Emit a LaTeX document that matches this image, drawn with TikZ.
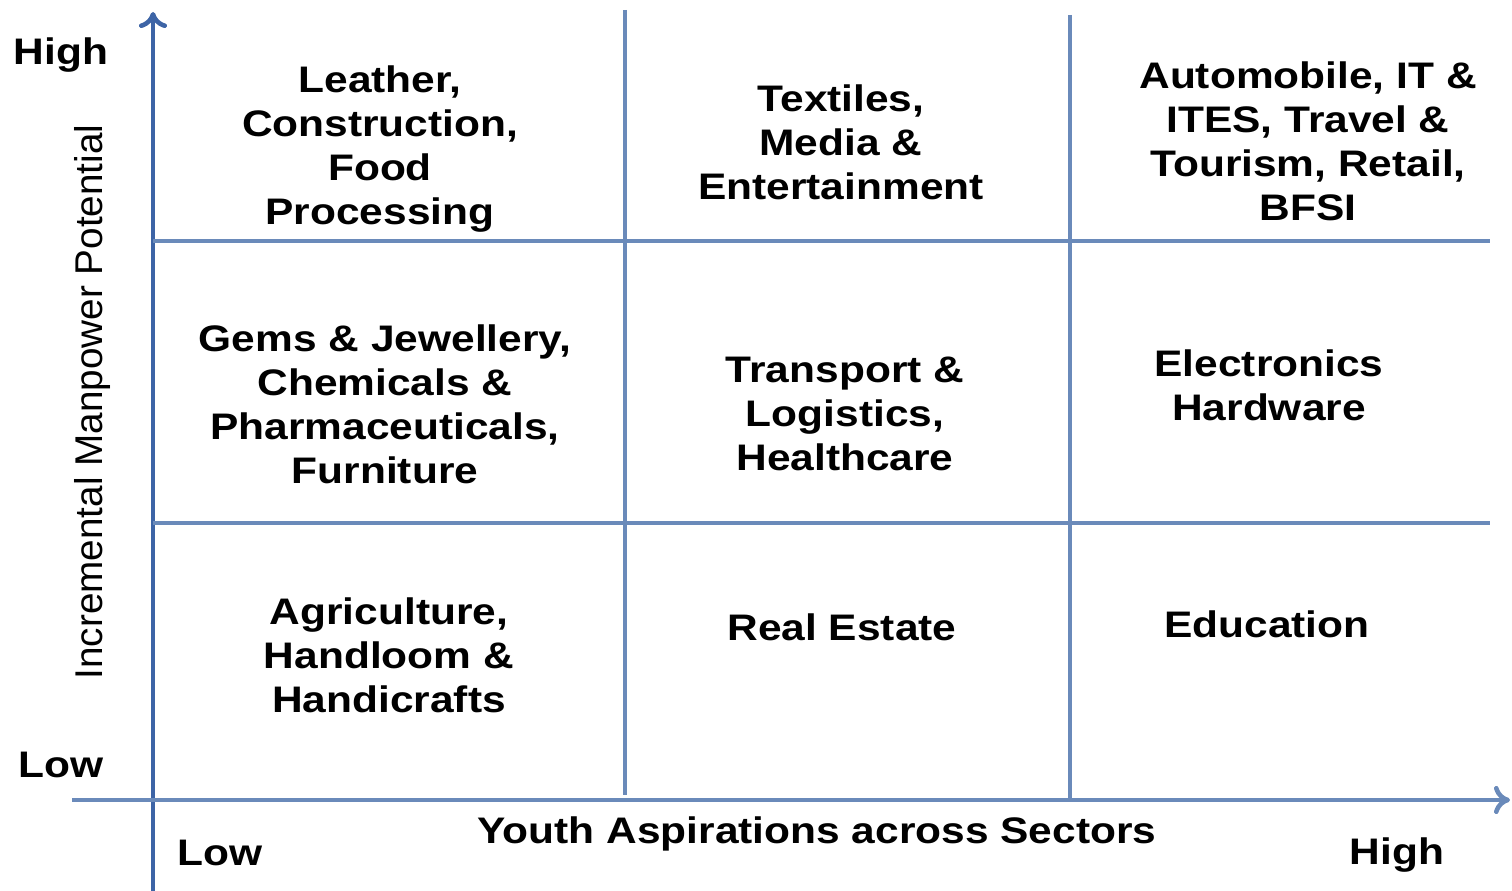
\documentclass[tikz,border=0pt]{standalone}
\usepackage{fontspec}
\setmainfont{Liberation Sans}[FakeStretch=1.15]
\newfontfamily\axisfont{Liberation Sans}
\usepackage{tikz}
\usetikzlibrary{arrows.meta, calc}

\definecolor{axisblue}{HTML}{3D64A6}
\definecolor{gridblue}{HTML}{6A8ABA}

\tikzset{
  cell/.style={align=center, inner sep=0pt, font=\fontsize{10.5}{12.5}\selectfont\bfseries},
  level/.style={inner sep=0pt, font=\fontsize{10.5}{12.5}\selectfont\bfseries},
  axisline/.style={axisblue, line width=1.1pt},
  gridline/.style={gridblue, line width=0.9pt},
}

\begin{document}
\begin{tikzpicture}[x=0.01cm, y=-0.01cm]

 %%Paramaters
%% grid position in pixels of the original, can be modified
\def\colA{625}
\def\colB{1070}
\def\rowA{241}
\def\rowB{523}
\def\textShift{3}
\useasboundingbox (0,0) rectangle (1512,891);

%% Axes
\coordinate (origin) at (153, 800);
\coordinate (ytop) at (153, 12);
\coordinate (ybot) at (153, 891);
\coordinate (xleft) at (72, 800);
\coordinate (xright) at (1510, 800);

\draw[axisline, -{To[length=1.6mm, width=2.8mm, line width=1.3pt]}] (ybot) -- (ytop);
\draw[gridline, line width=1pt, -{To[length=1.6mm, width=2.8mm, line width=1.3pt]}] (xleft) -- (xright);

%% Grid
\coordinate (colAtop) at (\colA, 10);
\coordinate (colAbot) at (\colA, 795);
\coordinate (colBtop) at (\colB, 15);
\coordinate (colBbot) at (\colB, 800);
\coordinate (rowAleft) at (153, \rowA);
\coordinate (rowAright) at (1490, \rowA);
\coordinate (rowBleft) at (153, \rowB);
\coordinate (rowBright) at (1490, \rowB);

\draw[gridline] (colAtop) -- (colAbot);
\draw[gridline] (colBtop) -- (colBbot);
\draw[gridline] (rowAleft) -- (rowAright);
\draw[gridline] (rowBleft) -- (rowBright);

%% Axis labels
\node[level] (yhigh) at (61, 52+\textShift) {High};
\node[level] (ylow) at (61, 762+\textShift) {Low};
\node[level] (xlow) at (220, 850+\textShift) {Low};
\node[level] (xhigh) at (1397, 852+\textShift) {High};
\node[level] (xtitle) at (817, 831+\textShift) {Youth Aspirations across Sectors};
\node[rotate=90, inner sep=0pt, font=\axisfont\fontsize{11}{13}\selectfont] (ytitle) at (92, 402) {Incremental Manpower Potential};

%% ***Top row***
\node[cell] (lhigh) at (380, 146+\textShift) {Leather,\\Construction,\\Food\\Processing};
\node[cell] (mhigh) at (841, 139+\textShift) {Textiles,\\Media \&\\Entertainment};
\node[cell] (rhigh) at (1308, 138+\textShift) {Automobile, IT \&\\ITES, Travel \&\\Tourism, Retail,\\BFSI};

%% ***Middle row***
\node[cell] (lmid) at (385, 401+\textShift) {Gems \& Jewellery,\\Chemicals \&\\Pharmaceuticals,\\Furniture};
\node[cell] (mmid) at (845, 411+\textShift) {Transport \&\\Logistics,\\Healthcare};
\node[cell] (rmid) at (1269, 382+\textShift) {Electronics\\Hardware};

%% ***Bottom row***
\node[cell] (llow) at (389, 652+\textShift) {Agriculture,\\Handloom \&\\Handicrafts};
\node[cell] (mlow) at (842, 624+\textShift) {Real Estate};
\node[cell] (rlow) at (1267, 621+\textShift) {Education};

\end{tikzpicture}
\end{document}
